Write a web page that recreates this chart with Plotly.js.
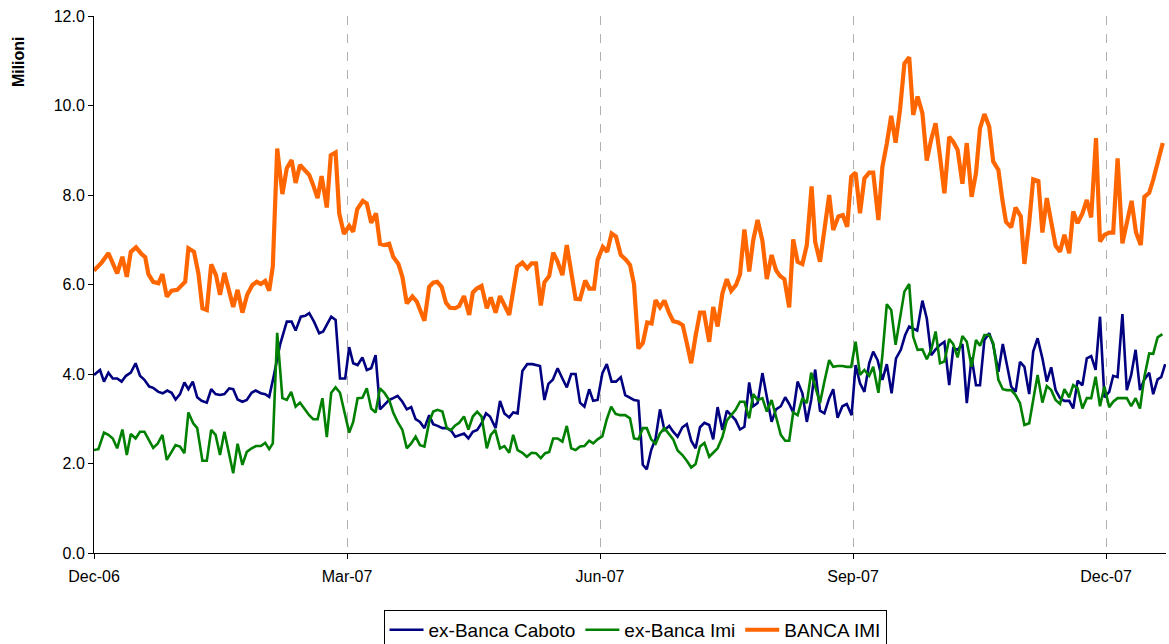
<!DOCTYPE html>
<html>
<head>
<meta charset="utf-8">
<script src="https://cdn.plot.ly/plotly-3.0.1.min.js"></script>
<style>html,body{margin:0;padding:0;background:#fff;}#chart{width:1169px;height:644px;}</style>
</head>
<body>
<div id="chart"></div>
<script>
// Tick labels (trading-day index positions of quarter starts)
const tickLabels = ['Dec-06', 'Mar-07', 'Jun-07', 'Sep-07', 'Dec-07'];
const tickDays = [0, 63.25, 126.5, 189.75, 253];
const yTitle = 'Milioni';

// ex-Banca Caboto
const cabotoX = [0.0,1.5,2.5,3.6,4.7,5.8,6.9,8.0,9.2,10.4,11.5,12.6,13.8,14.8,16.1,17.2,18.3,19.4,20.4,21.5,22.6,23.6,24.7,25.8,26.9,28.2,29.3,30.4,31.5,32.6,33.8,34.8,35.9,37.1,38.2,39.4,40.4,41.7,42.8,43.8,45.0,46.5,48.2,49.4,50.4,51.7,52.8,53.8,55.0,56.3,57.3,58.3,59.3,60.4,61.5,62.8,63.8,64.8,65.9,67.1,68.2,69.3,70.4,71.5,72.6,73.8,74.8,75.9,77.1,78.2,79.3,80.4,81.5,82.6,83.8,84.8,85.9,87.1,88.2,89.3,90.3,91.3,92.5,93.6,94.7,95.8,96.9,98.0,99.0,100.4,101.5,102.6,103.8,104.8,105.9,107.1,108.3,109.6,110.5,111.5,112.6,113.6,114.7,115.9,117.1,118.2,119.3,120.4,121.5,122.6,123.8,124.8,125.9,127.1,128.2,129.4,130.5,131.7,132.8,134.0,135.0,136.1,137.2,138.2,139.3,140.4,141.5,142.6,143.8,144.8,145.9,147.1,148.2,149.3,150.4,151.5,152.6,153.8,154.8,155.9,157.1,158.2,159.3,160.4,161.5,162.6,163.8,164.8,165.9,167.1,168.2,169.4,170.5,171.7,172.8,173.8,174.8,175.9,177.1,178.2,179.3,180.3,181.5,182.6,183.8,184.8,185.9,187.1,188.2,189.4,190.4,191.5,192.6,193.8,194.8,195.9,197.1,198.2,199.4,200.5,201.7,202.8,203.8,205.0,205.8,207.1,208.2,209.3,210.4,211.5,212.6,213.8,214.8,215.9,217.1,218.2,219.4,220.5,221.5,222.6,223.8,224.8,226.1,227.2,228.2,229.3,230.4,231.5,232.6,233.8,234.8,235.9,237.1,238.2,239.3,240.4,241.5,242.6,243.8,244.8,245.9,247.1,248.2,249.3,250.4,251.5,252.6,253.8,254.8,255.9,257.1,258.2,259.3,260.4,261.5,262.6,263.8,264.8,265.9,266.8,267.8];
const cabotoY = [3.98,4.09,3.83,4.03,3.90,3.90,3.83,3.96,4.03,4.24,3.96,3.87,3.72,3.69,3.60,3.57,3.63,3.58,3.43,3.55,3.81,3.66,3.83,3.48,3.40,3.36,3.66,3.55,3.53,3.55,3.68,3.66,3.43,3.38,3.42,3.58,3.63,3.57,3.55,3.49,3.98,4.65,5.17,5.17,4.97,5.28,5.30,5.36,5.17,4.91,4.95,5.13,5.28,5.21,3.90,3.90,4.60,4.24,4.20,4.37,4.09,4.13,4.42,3.21,3.31,3.42,3.46,3.51,3.38,3.21,3.26,2.99,2.93,2.79,3.08,2.88,2.84,2.79,2.79,2.73,2.60,2.64,2.67,2.56,2.71,2.75,2.90,3.12,3.05,2.79,3.40,3.12,3.03,3.14,3.12,4.07,4.22,4.22,4.20,4.18,3.42,3.78,3.87,4.13,3.90,3.70,4.00,4.00,3.36,3.27,3.66,3.40,3.42,4.02,4.22,3.83,3.83,3.93,3.53,3.46,3.42,3.40,1.97,1.87,2.30,2.56,3.21,2.75,2.84,2.71,2.60,2.81,2.88,2.51,2.34,2.81,2.91,2.86,2.54,3.26,2.75,3.18,3.08,2.97,2.76,2.82,3.81,3.28,3.35,4.02,3.49,2.93,3.21,3.28,3.48,3.33,3.14,3.83,3.57,2.93,3.42,4.10,3.18,3.12,3.46,3.66,3.02,3.28,3.33,3.08,4.20,3.79,3.60,4.24,4.50,4.31,3.87,4.22,3.57,4.35,4.54,4.87,5.06,5.00,4.97,5.64,5.24,4.42,4.55,4.65,4.72,3.75,4.57,4.54,4.67,3.35,4.37,3.75,3.75,4.76,4.91,4.65,4.05,4.67,4.20,3.72,3.60,4.27,4.16,3.55,4.50,4.80,4.35,3.83,4.15,3.64,3.46,3.40,3.40,3.23,3.85,3.75,4.35,4.40,4.09,5.28,3.48,3.60,3.96,3.93,5.34,3.64,3.98,4.54,3.64,3.88,4.03,3.55,3.88,3.93,4.22];

// ex-Banca Imi
const imiX = [0.0,1.1,2.5,3.6,4.7,5.8,7.1,8.2,9.2,10.4,11.5,12.6,13.8,14.8,15.9,17.1,18.2,19.3,20.4,21.5,22.6,23.6,24.8,25.8,27.1,28.2,29.3,30.4,31.5,32.6,33.8,34.8,35.9,37.1,38.2,39.4,40.5,41.7,42.8,43.8,44.7,45.8,47.1,48.2,49.3,50.4,51.5,52.6,53.8,54.8,55.9,57.1,58.2,59.3,60.4,61.5,62.6,63.8,64.8,65.9,67.1,68.2,69.3,70.4,71.5,72.6,73.8,74.8,75.9,77.1,78.2,79.3,80.4,81.5,82.6,83.8,84.8,85.9,87.1,88.2,89.3,90.3,91.3,92.5,93.6,94.7,95.8,96.9,98.2,99.2,100.3,101.5,102.6,103.8,104.8,105.9,107.1,108.2,109.4,110.5,111.7,112.8,113.8,114.8,115.9,117.1,118.2,119.3,120.4,121.5,122.6,123.8,124.8,125.9,127.1,128.2,129.3,130.4,131.5,132.8,134.0,135.0,136.1,137.2,138.2,139.3,140.4,141.5,142.6,143.8,144.8,145.9,147.1,148.2,149.3,150.4,151.5,152.6,153.8,154.8,155.9,157.1,158.2,159.3,160.4,161.5,162.6,163.8,164.8,165.9,167.1,168.2,169.4,170.5,171.7,172.8,173.8,174.8,175.9,177.1,178.2,179.3,180.3,181.5,182.6,183.8,184.8,185.9,187.1,188.2,189.3,190.4,191.5,192.6,193.8,194.8,196.1,197.1,198.2,199.3,200.4,201.5,202.6,203.8,204.8,205.9,207.1,208.2,209.3,210.4,211.5,212.6,213.8,214.8,215.9,217.1,218.2,219.4,220.5,221.5,222.6,223.8,224.8,226.1,227.2,228.2,229.3,230.4,231.5,232.6,233.8,234.8,235.9,237.1,238.2,239.3,240.4,241.5,242.6,243.8,244.8,245.9,247.1,248.2,249.3,250.4,251.5,252.6,253.8,254.8,255.9,257.1,258.2,259.3,260.4,261.5,262.6,263.8,264.8,265.9,267.1];
const imiY = [2.30,2.32,2.69,2.64,2.56,2.34,2.76,2.19,2.66,2.56,2.71,2.71,2.51,2.35,2.44,2.64,2.08,2.23,2.41,2.38,2.23,3.14,2.90,2.79,2.06,2.06,2.75,2.64,2.19,2.71,2.23,1.78,2.44,1.97,2.26,2.34,2.39,2.39,2.46,2.32,2.45,4.92,3.46,3.42,3.60,3.27,3.36,3.23,3.08,2.99,2.99,3.46,2.59,3.58,3.70,3.58,3.12,2.69,2.93,3.46,3.47,3.68,3.23,3.14,3.68,3.58,3.42,3.14,2.93,2.75,2.34,2.45,2.60,2.41,2.38,2.93,3.16,3.20,3.16,2.79,2.75,2.85,2.91,3.05,2.76,3.05,3.16,3.05,2.34,2.64,2.75,2.34,2.39,2.24,2.64,2.30,2.24,2.15,2.24,2.23,2.12,2.23,2.26,2.56,2.56,2.49,2.84,2.34,2.30,2.38,2.39,2.51,2.45,2.54,2.61,2.99,3.27,3.11,3.08,3.08,3.01,2.56,2.54,2.79,2.79,2.54,2.44,2.67,2.79,2.64,2.54,2.29,2.19,2.06,1.91,1.99,2.38,2.46,2.15,2.24,2.34,2.59,2.96,3.08,3.20,3.38,3.38,3.01,3.55,3.42,3.46,3.16,3.42,3.05,2.64,2.51,2.51,3.14,3.08,3.46,3.35,4.03,3.70,3.35,3.83,4.31,4.16,4.18,4.18,4.16,4.16,4.72,3.98,4.09,3.96,4.16,3.58,4.42,5.56,5.43,4.65,5.24,5.84,6.01,4.83,4.54,4.55,4.33,4.54,4.95,4.24,4.28,4.78,4.67,4.37,4.85,4.72,4.16,4.76,4.63,4.87,4.87,4.69,3.87,3.66,3.64,3.64,3.53,3.35,2.86,2.90,3.42,3.98,3.36,3.73,3.64,3.42,3.33,3.66,3.48,3.75,3.68,3.23,3.46,3.46,3.94,3.28,3.72,3.26,3.38,3.46,3.46,3.46,3.28,3.46,3.23,3.94,4.46,4.45,4.82,4.89];

// BANCA IMI
const bancaImiX = [0.0,1.9,3.6,5.8,7.1,8.2,9.2,10.5,11.7,12.8,13.6,14.8,16.1,17.1,18.2,19.4,20.8,22.8,23.6,25.0,26.1,27.1,28.2,29.3,30.5,31.5,32.6,33.8,34.8,35.9,37.1,38.3,39.6,40.7,41.7,42.8,43.8,44.7,45.8,47.1,48.2,49.4,50.4,51.5,52.8,53.8,54.8,55.9,56.9,58.2,59.2,60.4,61.3,62.5,63.8,64.8,65.8,67.2,68.2,69.3,70.5,71.5,72.6,73.8,74.8,76.1,77.1,78.2,79.6,80.7,81.7,82.6,83.8,84.8,85.8,86.9,88.0,89.0,90.3,91.3,92.5,93.8,94.7,95.7,96.9,98.2,99.2,100.4,101.5,102.6,103.8,104.8,105.8,107.1,108.3,109.4,110.5,111.7,112.6,113.8,114.8,115.9,117.1,118.2,119.3,120.4,121.5,122.8,123.8,125.0,125.9,127.2,128.3,129.4,130.5,131.7,132.9,134.0,135.0,136.1,137.2,138.3,139.4,140.4,141.5,142.6,143.8,144.8,146.1,147.2,148.2,149.3,150.4,151.5,152.5,153.8,154.8,155.9,157.1,158.2,159.3,160.5,161.5,162.6,163.8,164.8,165.9,167.1,168.2,169.4,170.5,171.5,172.6,173.8,174.8,175.9,177.1,178.2,179.4,180.3,181.5,182.8,183.8,184.8,186.1,187.2,188.3,189.3,190.4,191.5,192.6,193.8,194.8,196.1,197.1,198.2,199.3,200.4,201.5,202.6,203.8,204.8,205.9,207.1,208.2,209.3,210.4,211.5,212.6,213.8,214.8,215.9,217.1,218.2,219.4,220.5,221.5,222.6,223.8,224.8,226.1,227.1,228.0,229.3,230.4,231.7,232.6,233.8,234.8,236.1,237.1,238.2,239.3,240.4,241.5,242.6,243.8,244.8,245.9,247.1,248.2,249.3,250.5,251.5,252.6,253.8,254.8,255.9,257.1,258.2,259.4,260.5,261.7,262.6,263.8,264.8,266.1,267.2];
const bancaImiY = [6.31,6.49,6.70,6.25,6.62,6.17,6.73,6.83,6.70,6.61,6.23,6.06,6.03,6.23,5.73,5.86,5.88,6.06,6.81,6.73,6.25,5.47,5.43,6.45,6.21,5.77,6.26,5.88,5.50,5.88,5.37,5.77,5.99,6.06,6.01,6.08,5.86,6.40,9.04,8.02,8.60,8.78,8.27,8.67,8.56,8.45,8.22,7.93,8.42,7.72,8.89,8.95,7.59,7.13,7.31,7.18,7.68,7.87,7.81,7.38,7.59,6.91,6.88,6.91,6.62,6.46,6.17,5.58,5.73,5.62,5.39,5.19,5.95,6.04,6.06,5.95,5.59,5.48,5.47,5.52,5.74,5.32,5.82,5.91,5.97,5.47,5.71,5.37,5.74,5.54,5.32,5.86,6.40,6.49,6.36,6.47,6.47,5.53,6.05,6.19,6.71,6.51,6.21,6.88,6.23,5.68,5.67,6.09,5.91,5.91,6.55,6.84,6.73,7.14,7.07,6.66,6.56,6.44,6.01,4.57,4.69,5.15,5.13,5.65,5.49,5.64,5.36,5.18,5.15,5.09,4.69,4.24,4.85,5.37,5.37,4.72,5.50,5.06,5.80,6.12,5.86,5.99,6.23,7.23,6.29,6.99,7.44,6.98,6.12,6.66,6.32,6.19,6.12,5.49,7.01,6.51,6.46,6.88,8.19,6.95,6.51,7.29,8.00,7.22,7.52,7.55,7.29,8.41,8.50,7.59,8.37,8.50,8.50,7.44,8.63,9.15,9.77,9.17,9.90,10.94,11.08,9.79,10.20,9.83,8.77,9.24,9.60,8.86,8.04,9.30,9.19,9.01,8.25,9.16,7.96,8.49,9.49,9.81,9.53,8.75,8.56,7.89,7.40,7.28,7.72,7.52,6.46,7.38,8.35,8.31,7.16,7.93,7.40,6.87,6.73,7.11,6.70,7.63,7.37,7.59,7.89,7.50,9.27,6.96,7.11,7.16,7.16,8.82,6.92,7.37,7.87,7.16,6.88,7.96,8.05,8.34,8.74,9.16];

const FONT = 'Arial, "Liberation Sans", sans-serif';

const traces = [
  {x: cabotoX, y: cabotoY, name: 'ex-Banca Caboto', type: 'scatter', mode: 'lines',
   line: {color: '#000080', width: 2.6}},
  {x: imiX, y: imiY, name: 'ex-Banca Imi', type: 'scatter', mode: 'lines',
   line: {color: '#008000', width: 2.6}},
  {x: bancaImiX, y: bancaImiY, name: 'BANCA IMI', type: 'scatter', mode: 'lines',
   line: {color: '#FF6600', width: 4.2}}
];

const layout = {
  width: 1169, height: 644,
  margin: {l: 94, r: 3, t: 16, b: 91, autoexpand: false},
  paper_bgcolor: '#fff', plot_bgcolor: '#fff',
  font: {family: FONT, size: 16, color: '#000'},
  showlegend: true,
  legend: {
    orientation: 'h', xref: 'paper', yref: 'paper',
    x: 0.5047, xanchor: 'center', y: -0.106, yanchor: 'top',
    bordercolor: '#000', borderwidth: 1, bgcolor: '#fff',
    font: {family: FONT, size: 19, color: '#000'},
    itemwidth: 34, tracegroupgap: 0
  },
  xaxis: {
    type: 'linear', range: [0, 268],
    tickmode: 'array', tickvals: tickDays, ticktext: tickLabels,
    showline: true, linecolor: '#000', linewidth: 1,
    ticks: 'outside', ticklen: 5, tickcolor: '#000',
    ticklabelstandoff: 4,
    showgrid: true, gridcolor: '#b0b0b0', griddash: 'dash', gridwidth: 1,
    zeroline: false, fixedrange: true,
    tickfont: {family: FONT, size: 16, color: '#000'}
  },
  yaxis: {
    range: [0, 12], dtick: 2, tick0: 0, tickformat: '.1f',
    showline: true, linecolor: '#000', linewidth: 1,
    ticks: 'outside', ticklen: 5, tickcolor: '#000',
    showgrid: false, zeroline: false, fixedrange: true,
    tickfont: {family: FONT, size: 16, color: '#000'},
    automargin: false
  },
  annotations: [{
    text: '<b>' + yTitle + '</b>', textangle: -90, showarrow: false,
    xref: 'paper', yref: 'paper', x: -0.0709, y: 0.916,
    xanchor: 'center', yanchor: 'middle',
    font: {family: FONT, size: 16, color: '#000'}
  }]
};

Plotly.newPlot('chart', traces, layout, {displayModeBar: false, staticPlot: true});
</script>
</body>
</html>
